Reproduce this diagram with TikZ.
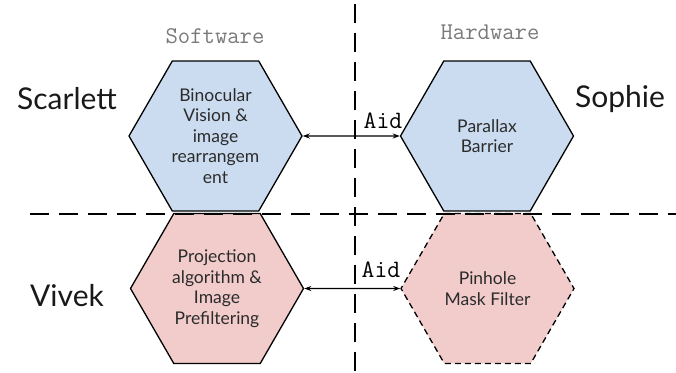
\documentclass[tikz,border=0pt]{standalone}
\usepackage{fontspec}
\setmainfont{Lato}
\usetikzlibrary{shapes.geometric,arrows.meta}
\definecolor{swblue}{HTML}{CBDCF0}
\definecolor{hwpink}{HTML}{F2CBCB}
\definecolor{labelgray}{HTML}{7A7A7A}
\definecolor{inktext}{HTML}{2B2B2B}
\tikzset{
  hexbox/.style={regular polygon, regular polygon sides=6, minimum size=173pt,
    inner sep=0pt, draw=black, line width=1.3pt, align=center,
    text=inktext, font=\fontsize{17.5}{20.5}\selectfont},
  sw/.style={hexbox, fill=swblue},
  hw/.style={hexbox, fill=hwpink},
  divider/.style={line width=2.4pt, dash pattern=on 19pt off 10pt},
  linkarrow/.style={{Stealth[length=7pt,width=5pt]}-{Stealth[length=7pt,width=5pt]}, line width=1.1pt},
  person/.style={font=\fontsize{30}{36}\selectfont, text=black!90},
  area/.style={font=\ttfamily\fontsize{24}{28}\selectfont, text=labelgray},
  aidtag/.style={font=\ttfamily\fontsize{25}{28}\selectfont, text=black, inner sep=0pt}
}
\begin{document}
\begin{tikzpicture}[x=1pt,y=-1pt]
  \useasboundingbox (0,0) rectangle (676,372);

  % four work packages
  \node[sw] (scar) at (215.5,136) {Binocular\\Vision \&\\image\\rearrangem\\ent};
  \node[sw] (soph) at (487,136) {Parallax\\Barrier};
  \node[hw] (vivk) at (217,288.5) {Projection\\algorithm \&\\Image\\Prefiltering};
  \node[hw, dashed, dash pattern=on 6pt off 4pt] (pinh) at (487.5,288.5) {Pinhole\\Mask Filter};

  % quadrant dividers
  \coordinate (vtop) at (355,4);
  \coordinate (vbot) at (355,372);
  \coordinate (hleft) at (30,214);
  \coordinate (hright) at (676,214);
  \draw[divider] (vtop) -- (vbot);
  \draw[divider] (hleft) -- (hright);

  % links between software and hardware
  \draw[linkarrow] (scar.east) -- (soph.west);
  \draw[linkarrow] (vivk.east) -- (pinh.west);
  \node[aidtag] (aid1) at (383,121) {Aid};
  \node[aidtag] (aid2) at (381,270) {Aid};

  % column headings
  \node[area] (swhead) at (215,36) {Software};
  \node[area] (hwhead) at (490,32) {Hardware};

  % owners
  \node[person] (nscar) at (67,99) {Scarlett};
  \node[person] (nsoph) at (620,99) {Sophie};
  \node[person] (nviv) at (67,296) {Vivek};
\end{tikzpicture}
\end{document}
